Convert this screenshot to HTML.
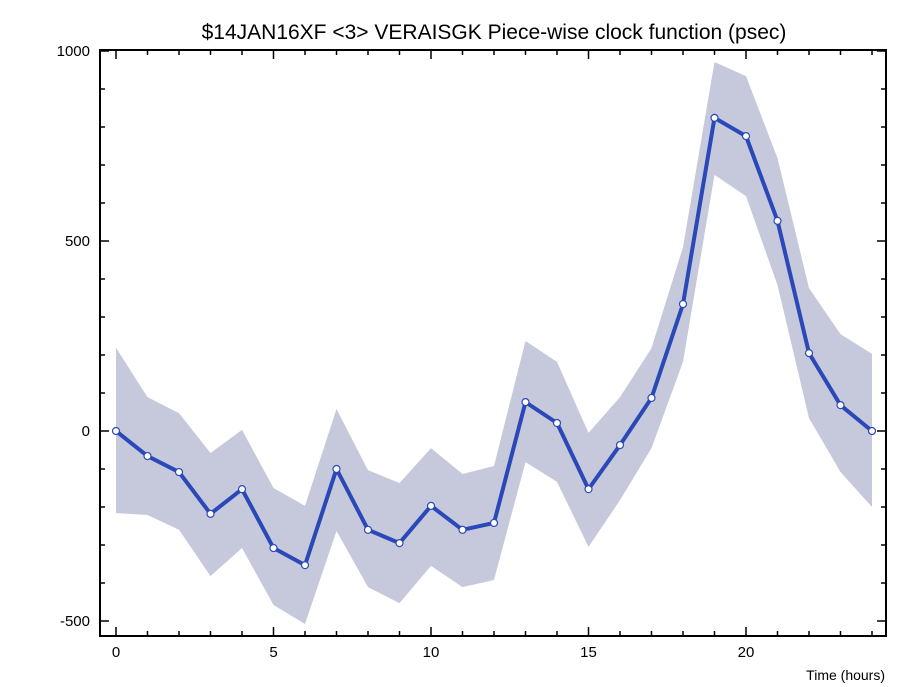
<!DOCTYPE html>
<html><head><meta charset="utf-8"><style>
html,body{margin:0;padding:0;background:#fff;width:905px;height:687px;overflow:hidden}
text{font-family:"Liberation Sans","DejaVu Sans",sans-serif}
</style></head><body>
<svg id="chart" width="905" height="687" xmlns="http://www.w3.org/2000/svg">
<text x="494" y="39" text-anchor="middle" font-size="21" fill="#000">$14JAN16XF &lt;3&gt;  VERAISGK  Piece-wise clock function (psec)</text>
<g id="band"></g>
<g id="series"></g>
<g id="axes"></g>
<text x="885" y="680" text-anchor="end" font-size="14" fill="#000">Time (hours)</text>
</svg>
<script>
const hours=[0,1,2,3,4,5,6,7,8,9,10,11,12,13,14,15,16,17,18,19,20,21,22,23,24];
const values=[0,-66,-108,-218,-153,-308,-353,-100,-260,-295,-197,-260,-242,76,21,-153,-37,87,334,824,776,553,205,68,0];
const upper=[219,89,47,-58,3,-150,-197,58,-103,-137,-45,-113,-92,237,182,-5,89,218,484,971,934,718,376,255,203];
const lower=[-216,-221,-260,-382,-308,-458,-508,-263,-411,-453,-355,-411,-392,-82,-134,-305,-182,-45,182,674,618,384,34,-108,-200];
const xTicks=[0,5,10,15,20];
const yTicks=[-500,0,500,1000];
const NS="http://www.w3.org/2000/svg";
const L=100,R=886,T=50,B=636;
function X(h){return 116+h*31.5;}
function Y(v){return 431-v*0.38;}
function mk(tag,attrs,parent){const e=document.createElementNS(NS,tag);for(const k in attrs)e.setAttribute(k,attrs[k]);parent.appendChild(e);return e;}
const band=document.getElementById('band'),series=document.getElementById('series'),axes=document.getElementById('axes');
let pts=hours.map((h,i)=>X(h)+','+Y(upper[i]));
for(let i=hours.length-1;i>=0;i--)pts.push(X(hours[i])+','+Y(lower[i]));
const poly=mk('polygon',{points:pts.join(' '),fill:'#c5c9db'},band);


const line=mk('polyline',{points:hours.map((h,i)=>X(h)+','+Y(values[i])).join(' '),fill:'none',stroke:'#2a48b8','stroke-width':4,'stroke-linejoin':'round'},series);


hours.forEach((h,i)=>{
  const c=mk('circle',{cx:X(h),cy:Y(values[i]),r:3.5,fill:'#fff',stroke:'#2a48b8','stroke-width':1.2},series);
  
  
});
const frame=mk('rect',{x:L,y:T,width:R-L,height:B-T,fill:'none',stroke:'#000','stroke-width':2},axes);


for(let h=0;h<=24;h++){
  const major=h%5===0,len=major?9:5,x=X(h);
  mk('line',{x1:x,y1:B,x2:x,y2:B-len,stroke:'#000','stroke-width':1.5},axes);
  mk('line',{x1:x,y1:T,x2:x,y2:T+len,stroke:'#000','stroke-width':1.5},axes);
}
for(let v=-500;v<=1000;v+=100){
  const major=v%500===0,len=major?9:5,y=Y(v);
  mk('line',{x1:L,y1:y,x2:L+len,y2:y,stroke:'#000','stroke-width':1.5},axes);
  mk('line',{x1:R,y1:y,x2:R-len,y2:y,stroke:'#000','stroke-width':1.5},axes);
}
xTicks.forEach(h=>{
  const t=mk('text',{x:X(h),y:657,'text-anchor':'middle','font-size':15,fill:'#000'},axes);
  t.textContent=h;
  
  
});
yTicks.forEach(v=>{
  const t=mk('text',{x:90,y:Y(v)+5,'text-anchor':'end','font-size':15,fill:'#000'},axes);
  t.textContent=v;
  
  
});
</script>
</body></html>
